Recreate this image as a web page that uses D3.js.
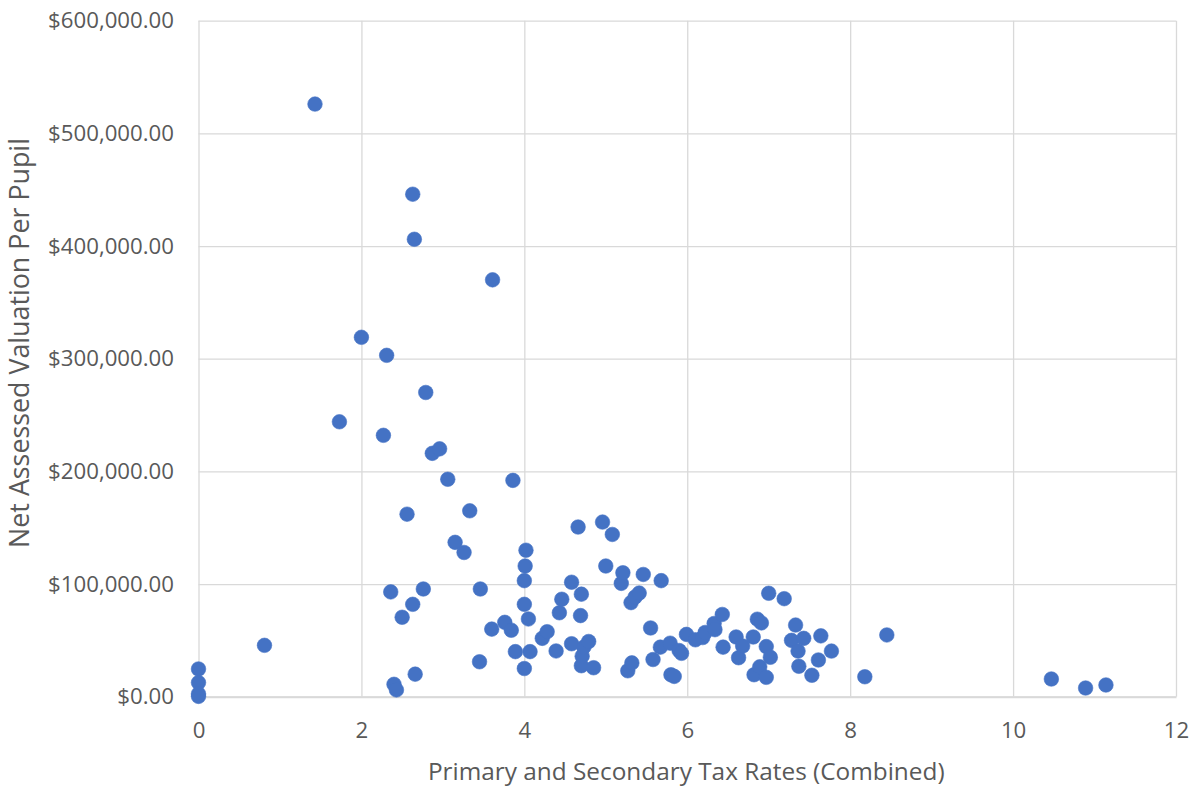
<!DOCTYPE html>
<html>
<head>
<meta charset="utf-8">
<script src="https://cdn.jsdelivr.net/npm/d3@7"></script>
<style>
  html, body { margin: 0; padding: 0; background: #fff; }
  svg { display: block; }
  text { font-family: "Open Sans", Lato, sans-serif; fill: #595959; }
</style>
</head>
<body>
<svg id="chart" width="1200" height="790"></svg>
<script>
// Combined primary + secondary tax rate for each district
const taxRates = [
  0, 0, 0, 0, 0.81, 1.43, 1.73, 2.0, 2.27, 2.31,
  2.36, 2.40, 2.43, 2.50, 2.56, 2.63, 2.63, 2.65, 2.66, 2.76,
  2.79, 2.87, 2.96, 3.06, 3.15, 3.26, 3.33, 3.45, 3.46, 3.60,
  3.61, 3.76, 3.84, 3.86, 3.89, 4.0, 4.0, 4.0, 4.01, 4.02,
  4.05, 4.07, 4.22, 4.28, 4.39, 4.43, 4.46, 4.58, 4.58, 4.66,
  4.69, 4.70, 4.70, 4.71, 4.73, 4.79, 4.85, 4.96, 5.0, 5.08,
  5.19, 5.21, 5.27, 5.31, 5.36, 5.41, 5.32, 5.46, 5.55, 5.58,
  5.67, 5.68, 5.79, 5.80, 5.84, 5.90, 5.93, 5.99, 6.10, 6.19,
  6.22, 6.33, 6.34, 6.43, 6.44, 6.60, 6.63, 6.68, 6.81, 6.82,
  6.86, 6.89, 6.91, 6.97, 6.97, 7.0, 7.02, 7.19, 7.28, 7.33,
  7.36, 7.37, 7.43, 7.53, 7.61, 7.64, 7.77, 8.18, 8.45, 10.47,
  10.89, 11.14
];

// Net assessed valuation per pupil (dollars), same order as taxRates
const valuations = [
  24600, 12500, 2500, 300, 45600, 526000, 244000, 319000, 232000, 303000,
  93000, 11000, 6000, 70500, 162000, 446000, 82000, 406000, 20000, 95600,
  270000, 216000, 220000, 193000, 137000, 128000, 165000, 31000, 95600, 60000,
  370000, 66000, 59000, 192000, 40000, 25000, 82000, 103000, 116000, 130000,
  69000, 40000, 51800, 57700, 40600, 74500, 86500, 101600, 47000, 150600,
  72000, 91000, 27500, 36000, 44000, 49000, 25700, 155000, 116000, 144000,
  100600, 110000, 23000, 83500, 88500, 92000, 30000, 108500, 61000, 33000,
  44000, 103000, 47500, 19500, 18000, 41000, 38500, 55300, 50500, 52500,
  57000, 65000, 59500, 73000, 44000, 53000, 34600, 45000, 53000, 19500,
  68800, 26500, 65500, 44500, 17200, 91800, 35000, 87000, 50000, 63600,
  40500, 27000, 51800, 19000, 32600, 54000, 40500, 17700, 54800, 15700,
  7700, 10400
];

const xTicks = [0, 2, 4, 6, 8, 10, 12];
const yTicks = [0, 100000, 200000, 300000, 400000, 500000, 600000];

const xTitle = "Primary and Secondary Tax Rates (Combined)";
const yTitle = "Net Assessed Valuation Per Pupil";

const points = taxRates.map((t, i) => ({ x: t, y: valuations[i] }));

const svg = d3.select("#chart");
const margin = { top: 20.7, right: 24, bottom: 93.3, left: 198.5 };
const W = 1200, H = 790;
const iw = W - margin.left - margin.right;
const ih = H - margin.top - margin.bottom;

const x = d3.scaleLinear().domain([0, 12]).range([0, iw]);
const y = d3.scaleLinear().domain([0, 600000]).range([ih, 0]);

// scale a text's font size so its rendered width equals a target width
function fitWidth(sel, target, base) {
  sel.attr("font-size", base);
  const w = sel.node().getComputedTextLength();
  sel.attr("font-size", base * target / w);
  return base * target / w;
}

const g = svg.append("g").attr("transform", `translate(${margin.left},${margin.top})`);

// gridlines
g.append("g")
  .attr("transform", `translate(0,${ih})`)
  .call(d3.axisBottom(x).tickValues(xTicks).tickSize(-ih).tickFormat(""))
  .call(s => s.select(".domain").remove())
  .call(s => s.selectAll("line").attr("stroke", "#d9d9d9").attr("stroke-width", 1.3));

g.append("g")
  .call(d3.axisLeft(y).tickValues(yTicks).tickSize(-iw).tickFormat(""))
  .call(s => s.select(".domain").remove())
  .call(s => s.selectAll("line").attr("stroke", "#d9d9d9").attr("stroke-width", 1.3));

// y axis labels
const money = d3.format("$,.2f");
const yAxisG = g.append("g")
  .call(d3.axisLeft(y).tickValues(yTicks).tickSize(0).tickPadding(24.5).tickFormat(money))
  .call(s => s.select(".domain").remove());
const topLabel = yAxisG.selectAll("text").filter(d => d === 600000);
const tickSize = fitWidth(topLabel, 126, 20);
yAxisG.selectAll("text").attr("font-size", tickSize).attr("fill", "#595959");

// x axis line and labels
g.append("g")
  .attr("transform", `translate(0,${ih})`)
  .call(d3.axisBottom(x).tickValues(xTicks).tickSize(0).tickPadding(26).tickFormat(d3.format("d")))
  .call(s => s.select(".domain").attr("stroke", "#d9d9d9").attr("stroke-width", 2))
  .call(s => s.selectAll("text").attr("font-size", tickSize).attr("fill", "#595959"));

// points
g.append("g")
  .selectAll("circle")
  .data(points)
  .join("circle")
  .attr("cx", d => x(d.x))
  .attr("cy", d => y(d.y))
  .attr("r", 7.3)
  .attr("fill", "#4472c4")
  .attr("stroke", "#4472c4")
  .attr("stroke-width", 0.6);

// axis titles
const xt = svg.append("text")
  .attr("x", margin.left + iw / 2 - 1)
  .attr("y", 780)
  .attr("text-anchor", "middle")
  .text(xTitle);
fitWidth(xt, 517, 22);

const yt = svg.append("text")
  .attr("transform", `translate(29,343) rotate(-90)`)
  .attr("text-anchor", "middle")
  .text(yTitle);
fitWidth(yt, 410, 22);
</script>
</body>
</html>
